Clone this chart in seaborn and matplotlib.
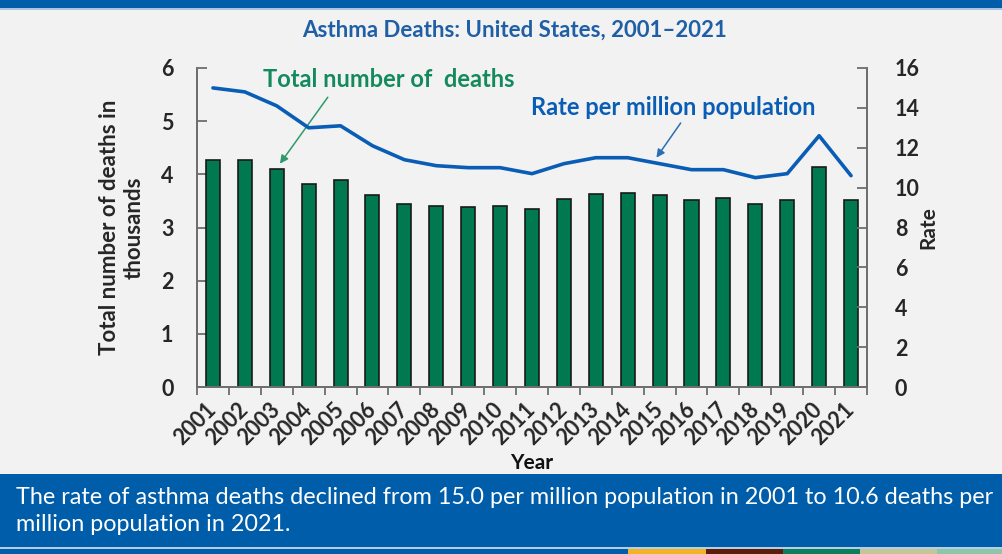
import numpy as np
import pandas as pd
import matplotlib
matplotlib.use("Agg")
import matplotlib.pyplot as plt
from matplotlib.patches import Rectangle
import seaborn as sns

# Asthma deaths in the United States, 2001-2021
years = ["2001", "2002", "2003", "2004", "2005", "2006", "2007", "2008", "2009", "2010",
         "2011", "2012", "2013", "2014", "2015", "2016", "2017", "2018", "2019", "2020", "2021"]
deaths_thousands = [4.269, 4.261, 4.099, 3.816, 3.884, 3.613, 3.447, 3.397, 3.388, 3.404,
                    3.345, 3.538, 3.630, 3.651, 3.615, 3.518, 3.564, 3.441, 3.524, 4.145, 3.517]
rate_per_million = [15.0, 14.8, 14.1, 13.0, 13.1, 12.1, 11.4, 11.1, 11.0, 11.0,
                    10.7, 11.2, 11.5, 11.5, 11.2, 10.9, 10.9, 10.5, 10.7, 12.6, 10.6]
left_ticks = [0, 1, 2, 3, 4, 5, 6]
right_ticks = [0, 2, 4, 6, 8, 10, 12, 14, 16]

title = "Asthma Deaths: United States, 2001\u20132021"
caption = ("The rate of asthma deaths declined from 15.0 per million population in 2001 to 10.6 deaths per\n"
           "million population in 2021.")

BG = "#f2f2f2"
BLUE_BAND = "#005DAA"
BAR_GREEN = "#007850"
LINE_BLUE = "#0A5DB5"
TEXT_GREEN = "#138A5E"
TITLE_BLUE = "#1F5FA5"
AXIS_GREY = "#6e6e6e"

sns.set_theme(style="white")
plt.rcParams["font.family"] = ["Lato", "DejaVu Sans"]
plt.rcParams["font.weight"] = "bold"

df = pd.DataFrame({"year": years, "deaths": deaths_thousands, "rate": rate_per_million})
df["pos"] = np.arange(len(df))

fig = plt.figure(figsize=(10.03, 5.54), dpi=100, facecolor=BG)
ax = fig.add_axes([0.1964, 0.3014, 0.668, 0.5759])
ax.set_facecolor(BG)

sns.barplot(data=df, x="year", y="deaths", color=BAR_GREEN, saturation=1,
            width=0.44, edgecolor="#1a1a1a", linewidth=1.2, ax=ax)

ax2 = ax.twinx()
sns.lineplot(data=df, x="pos", y="rate", color=LINE_BLUE, linewidth=2.6, ax=ax2)

ax.set_xlim(-0.5, len(years) - 0.5)
ax.set_ylim(0, 6)
ax2.set_ylim(0, 16)
ax.set_yticks(left_ticks)
ax2.set_yticks(right_ticks)

for a in (ax, ax2):
    a.spines["top"].set_visible(False)
    for s in ("left", "right", "bottom"):
        a.spines[s].set_color(AXIS_GREY)
        a.spines[s].set_linewidth(1.3)

# Category labels at bar centres, tick marks between categories
ax.set_xticks(np.arange(len(years)))
ax.set_xticklabels(years, rotation=45, ha="right", va="center",
                   rotation_mode="anchor", fontsize=15.5, fontweight="bold")
ax.tick_params(axis="x", which="major", length=0, pad=14)
ax.set_xticks(np.arange(-0.5, len(years), 1.0), minor=True)
ax.tick_params(axis="x", which="minor", length=6, width=1.3, color=AXIS_GREY, direction="out", bottom=True)

ax.tick_params(axis="y", which="major", direction="in", length=7, width=1.3, color=AXIS_GREY,
               labelsize=15.5, pad=17, left=True)
ax2.tick_params(axis="y", which="major", direction="in", length=7, width=1.3, color=AXIS_GREY,
                labelsize=15.5, pad=20, right=True)
for lbl in ax.get_yticklabels() + ax2.get_yticklabels():
    lbl.set_fontweight("bold")

ax.set_xlabel("Year", fontsize=15, fontweight="bold", labelpad=3)
ax.set_ylabel("Total number of deaths in\nthousands", fontsize=16, fontweight="bold", labelpad=12,
              linespacing=1.2)
ax2.set_ylabel("Rate", fontsize=15, fontweight="bold", labelpad=-1)
ax.xaxis.label.set_color("#111111")

# Series call-outs
ax.text(5.5, 5.79, "Total number of  deaths", ha="center", va="center", color=TEXT_GREEN,
        fontsize=17, fontweight="bold")
ax.annotate("", xy=(2.1, 4.2), xytext=(3.6, 5.45), textcoords="data",
            arrowprops=dict(arrowstyle="-|>", color="#2E9A6A", lw=1.1,
                            mutation_scale=12, shrinkA=0, shrinkB=0))
ax2.text(14.44, 14.0, "Rate per million population", ha="center", va="center", color=LINE_BLUE,
         fontsize=17, fontweight="bold")
ax2.annotate("", xy=(13.9, 11.5), xytext=(14.66, 13.24), textcoords="data",
             arrowprops=dict(arrowstyle="-|>", color="#2A6FB5", lw=1.1,
                             mutation_scale=12, shrinkA=0, shrinkB=0))

# Page furniture: top band, title, caption box, colour strip
W, H = 1003, 554
def rect(x, y, w, h, c):
    fig.patches.append(Rectangle((x / W, 1 - (y + h) / H), w / W, h / H,
                                 transform=fig.transFigure, facecolor=c, edgecolor="none", zorder=0))

rect(0, 0, W, 8, BLUE_BAND)
rect(0, 8, W, 2, "#a9c3df")
rect(0, 474, W, 73, BLUE_BAND)
rect(0, 547, W, 2, "#b6cde6")
rect(0, 549, 628, 5, BLUE_BAND)
for x0, x1, c in [(628, 706, "#F0B323"), (706, 783, "#5C1E0A"), (783, 860, "#0E7D5A"),
                  (860, 937, "#C5C698"), (937, 1003, "#8FC5A8")]:
    rect(x0, 549, x1 - x0, 5, c)

fig.text(514 / W, 1 - 30 / H, title, ha="center", va="center", color=TITLE_BLUE,
         fontsize=16, fontweight="bold")
fig.text(16 / W, 1 - 511 / H, caption, ha="left", va="center", color="white",
         fontsize=16.8, fontweight="normal", linespacing=1.3)

fig.savefig("out.png", dpi=100, facecolor=BG)
